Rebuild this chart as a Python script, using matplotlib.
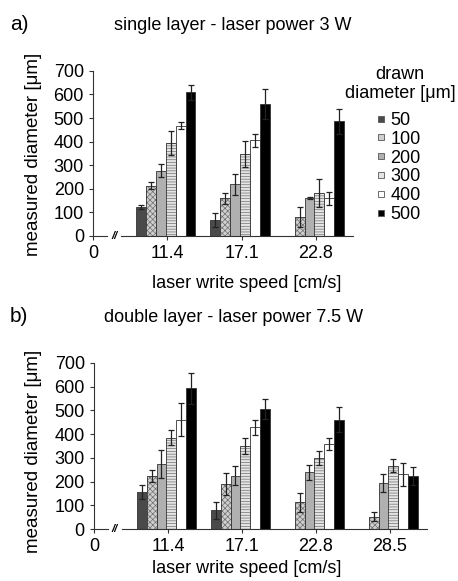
import numpy as np
import matplotlib.pyplot as plt
from matplotlib.lines import Line2D

plt.rcParams['font.family'] = ['Liberation Sans', 'DejaVu Sans']
plt.rcParams['hatch.linewidth'] = 0.5

nan = np.nan
diameters = ["50", "100", "200", "300", "400", "500"]
speeds_a = ["11.4", "17.1", "22.8"]
speeds_b = ["11.4", "17.1", "22.8", "28.5"]

# single layer, 3 W  (rows = drawn diameter, cols = write speed)
mean_a = [[124, 67, nan],
          [212, 159, 81],
          [276, 219, 161],
          [394, 348, 181],
          [468, 405, 159],
          [610, 560, 486]]
err_a = [[8, 28, nan],
         [15, 24, 43],
         [27, 44, 4],
         [50, 55, 60],
         [16, 26, 26],
         [32, 64, 52]]

# double layer, 7.5 W
mean_b = [[155, 79, nan, nan],
          [225, 189, 113, 52],
          [272, 224, 239, 193],
          [385, 348, 300, 266],
          [460, 428, 359, 231],
          [593, 506, 461, 224]]
err_b = [[30, 35, nan, nan],
         [25, 47, 40, 19],
         [59, 40, 32, 37],
         [33, 34, 30, 27],
         [70, 30, 25, 49],
         [65, 42, 51, 37]]

styles = [dict(facecolor="#4a4a4a", hatch=None),
          dict(facecolor="#cfcfcf", hatch="xxxxxx"),
          dict(facecolor="#b0b0b0", hatch=None),
          dict(facecolor="#e4e4e4", hatch="------"),
          dict(facecolor="white", hatch=None),
          dict(facecolor="black", hatch=None)]

fig = plt.figure(figsize=(4.58, 5.81), dpi=100)
ax_a = fig.add_axes([0.203, 0.594, 0.568, 0.284])
ax_b = fig.add_axes([0.205, 0.0895, 0.727, 0.286])

w = 0.133


def draw(ax, speeds, means, errs):
    n = len(speeds)
    pos = np.arange(1, n + 1)
    for i, st in enumerate(styles):
        x = pos + (i - 2.5) * w - 0.02
        vals = np.array(means[i], dtype=float)
        e = np.array(errs[i], dtype=float)
        if st["hatch"]:
            ax.bar(x, vals, w, color=st["facecolor"], edgecolor="#707070",
                   hatch=st["hatch"], linewidth=0)
            ax.bar(x, vals, w, fill=False, edgecolor="#333333", linewidth=0.6)
        else:
            ax.bar(x, vals, w, color=st["facecolor"], edgecolor="#333333",
                   linewidth=0.6)
        ax.errorbar(x, vals, yerr=e, fmt="none", ecolor="#222222",
                    elinewidth=0.9, capsize=2.5, capthick=0.9)
    xmax = n + 0.5
    ax.set_xlim(0, xmax)
    ax.set_ylim(0, 700)
    ax.set_yticks(range(0, 701, 100))
    ax.set_xticks(np.arange(0, n + 1))
    ax.set_xticklabels(["0"] + speeds)
    ax.tick_params(labelsize=13, length=3, color="#333333")
    for s in ["top", "right", "bottom"]:
        ax.spines[s].set_visible(False)
    ax.spines["left"].set_color("#333333")
    # broken x axis
    ax.plot([0, 0.19], [0, 0], color="#333333", lw=0.8, clip_on=False)
    ax.plot([0.38, xmax], [0, 0], color="#333333", lw=0.8, clip_on=False)
    ax.text(0.285, 0, "//", fontsize=8, ha="center", va="center",
            fontweight="bold", style="italic")
    ax.set_xlabel("laser write speed [cm/s]", fontsize=13)
    ax.set_ylabel("measured diameter [μm]", fontsize=13.5)


draw(ax_a, speeds_a, mean_a, err_a)
draw(ax_b, speeds_b, mean_b, err_b)
ax_a.xaxis.set_label_coords(0.592, -0.24)
ax_b.xaxis.set_label_coords(0.46, -0.185)
ax_a.yaxis.set_label_coords(-0.196, 0.494)
ax_b.yaxis.set_label_coords(-0.156, 0.47)

fig.text(10 / 458, 1 - 25 / 581, "a)", fontsize=15, va="center")
fig.text(233 / 458, 1 - 25 / 581, "single layer - laser power 3 W",
         fontsize=13, ha="center", va="center")
fig.text(10 / 458, 1 - 317 / 581, "b)", fontsize=15, va="center")
fig.text(234 / 458, 1 - 317 / 581, "double layer - laser power 7.5 W",
         fontsize=13, ha="center", va="center")

fig.text(400 / 458, 1 - 84 / 581, "drawn\ndiameter [μm]", fontsize=13,
         ha="center", va="center", linespacing=1.2)
handles = [Line2D([], [], linestyle="none", marker="s", markersize=4.5,
                  markerfacecolor=st["facecolor"], markeredgecolor="#555555",
                  markeredgewidth=0.6) for st in styles]
fig.legend(handles, diameters, loc="upper left",
           bbox_to_anchor=(377 / 458, 1 - 112 / 581),
           frameon=False, fontsize=13,
           handlelength=0.4, handletextpad=0.35,
           labelspacing=0.1, borderpad=0, borderaxespad=0)

fig.savefig("out.png", dpi=100)
